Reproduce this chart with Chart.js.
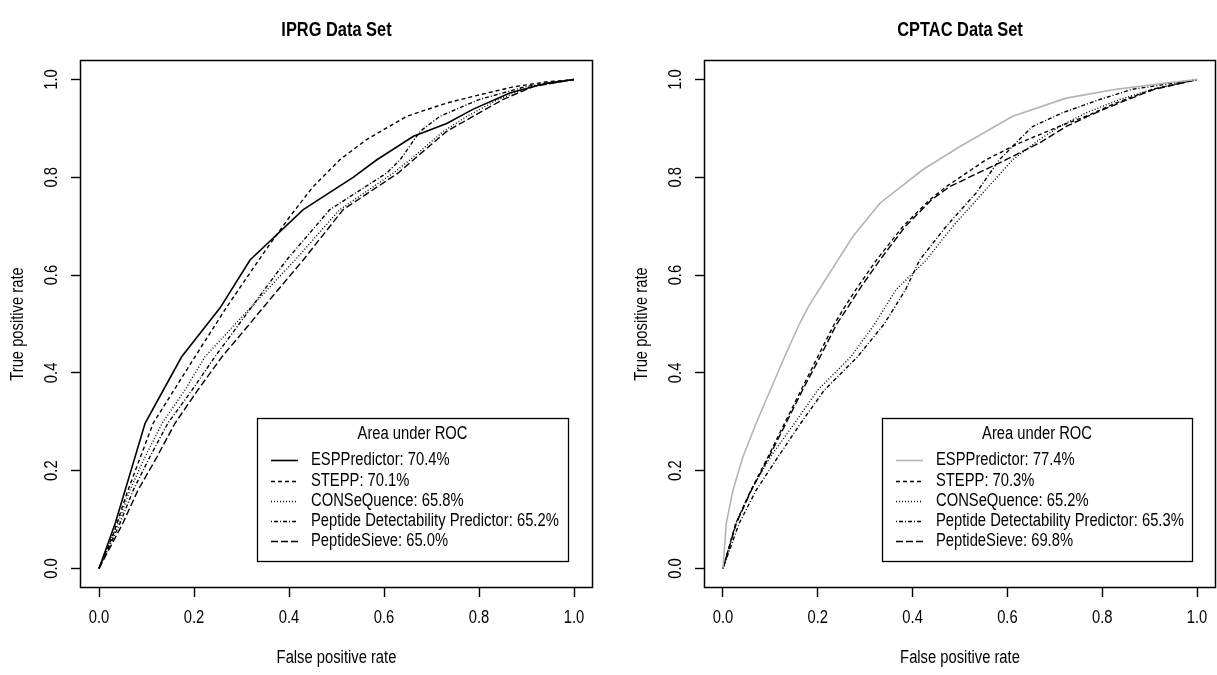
<!DOCTYPE html>
<html>
<head>
<meta charset="utf-8">
<script src="https://cdn.jsdelivr.net/npm/chart.js@4/dist/chart.umd.min.js"></script>
<style>
  body { margin: 0; background: #fff; }
  #wrap { position: relative; width: 1217px; height: 675px; }
  canvas { position: absolute; top: 0; }
</style>
</head>
<body>
<div id="wrap">
  <canvas id="iprg" width="608" height="675" style="left:0"></canvas>
  <canvas id="cptac" width="609" height="675" style="left:608px"></canvas>
</div>
<script>
// tick labels
const axisTicks = [0, 0.2, 0.4, 0.6, 0.8, 1.0];
const methodNames = ["ESPPredictor", "STEPP", "CONSeQuence", "Peptide Detectability Predictor", "PeptideSieve"];
const iprgAuc = ["70.4%", "70.1%", "65.8%", "65.2%", "65.0%"];
const cptacAuc = ["77.4%", "70.3%", "65.2%", "65.3%", "69.8%"];

// IPRG data set curves (false positive rate / true positive rate)
const iprgEspX = [0, 0.034, 0.055, 0.097, 0.174, 0.255, 0.318, 0.43, 0.535, 0.585, 0.662, 0.732, 0.787, 0.866, 0.94, 1];
const iprgEspY = [0, 0.092, 0.16, 0.297, 0.433, 0.533, 0.631, 0.734, 0.80, 0.836, 0.884, 0.91, 0.939, 0.973, 0.992, 1];
const iprgSteppX = [0, 0.03, 0.061, 0.114, 0.202, 0.269, 0.35, 0.402, 0.45, 0.507, 0.563, 0.648, 0.732, 0.802, 0.872, 0.94, 1];
const iprgSteppY = [0, 0.07, 0.16, 0.297, 0.433, 0.535, 0.65, 0.72, 0.78, 0.836, 0.877, 0.925, 0.952, 0.969, 0.985, 0.995, 1];
const iprgLowY = [0, 0.092, 0.16, 0.228, 0.297, 0.365, 0.433, 0.50, 0.533, 0.57, 0.631, 0.734, 0.809, 0.836, 0.894, 0.925, 0.959, 0.986, 1];
const iprgConsX = [0, 0.04, 0.065, 0.097, 0.133, 0.181, 0.223, 0.287, 0.319, 0.354, 0.413, 0.507, 0.62, 0.655, 0.725, 0.775, 0.84, 0.91, 1];
const iprgPdpX = [0, 0.044, 0.072, 0.107, 0.145, 0.196, 0.244, 0.295, 0.32, 0.348, 0.395, 0.486, 0.606, 0.634, 0.676, 0.718, 0.80, 0.90, 1];
const iprgSieveX = [0, 0.05, 0.082, 0.122, 0.16, 0.208, 0.259, 0.317, 0.345, 0.377, 0.43, 0.514, 0.63, 0.662, 0.732, 0.788, 0.85, 0.915, 1];

// CPTAC data set curves
const cptacEspX = [0, 0.007, 0.021, 0.042, 0.07, 0.10, 0.13, 0.161, 0.183, 0.274, 0.331, 0.422, 0.50, 0.611, 0.724, 0.829, 0.934, 1];
const cptacEspY = [0, 0.092, 0.16, 0.228, 0.297, 0.365, 0.433, 0.50, 0.54, 0.679, 0.747, 0.816, 0.863, 0.925, 0.962, 0.98, 0.993, 1];
const cptacUpY = [0, 0.092, 0.16, 0.228, 0.297, 0.365, 0.433, 0.50, 0.532, 0.57, 0.631, 0.70, 0.754, 0.781, 0.836, 0.87, 0.904, 0.925, 0.952, 0.98, 1];
const cptacSteppX = [0, 0.027, 0.059, 0.095, 0.13, 0.165, 0.2, 0.235, 0.255, 0.28, 0.324, 0.38, 0.436, 0.471, 0.555, 0.625, 0.709, 0.766, 0.829, 0.906, 1];
const cptacSieveX = [0, 0.028, 0.06, 0.097, 0.133, 0.168, 0.205, 0.24, 0.262, 0.287, 0.331, 0.385, 0.44, 0.478, 0.597, 0.667, 0.724, 0.77, 0.835, 0.91, 1];
const cptacLowY = [0, 0.092, 0.16, 0.228, 0.297, 0.365, 0.433, 0.50, 0.57, 0.631, 0.70, 0.768, 0.836, 0.877, 0.904, 0.932, 0.959, 0.98, 1];
const cptacConsX = [0, 0.027, 0.059, 0.10, 0.151, 0.20, 0.27, 0.32, 0.365, 0.429, 0.485, 0.548, 0.611, 0.667, 0.71, 0.766, 0.836, 0.906, 1];
const cptacPdpX = [0, 0.034, 0.07, 0.116, 0.164, 0.214, 0.284, 0.34, 0.385, 0.415, 0.471, 0.534, 0.583, 0.625, 0.653, 0.716, 0.794, 0.863, 1];

const FONT = "'Liberation Sans', Arial, sans-serif";
const SQUEEZE = 0.82; // the original lettering is narrow
const lineDashes = [[], [4, 3], [1, 2], [1, 2, 4, 2], [7, 3]];

function pts(xs, ys) {
  return xs.map((x, i) => ({ x: x, y: ys[i] }));
}

function makeSets(curves, espColor) {
  return curves.map((c, i) => ({
    label: methodNames[i],
    data: pts(c[0], c[1]),
    showLine: true,
    pointRadius: 0,
    borderColor: i === 0 ? espColor : "#000",
    borderWidth: i === 0 ? 1.6 : 1.4,
    borderDash: lineDashes[i],
    tension: 0,
  }));
}

function narrowText(ctx, str, x, y, font, align, vertical) {
  ctx.save();
  ctx.translate(x, y);
  if (vertical) ctx.rotate(-Math.PI / 2);
  ctx.scale(SQUEEZE, 1);
  ctx.font = font;
  ctx.textAlign = align;
  ctx.textBaseline = "middle";
  ctx.fillText(str, 0, 0);
  ctx.restore();
}

// draws the R style frame, axis text, titles and the legend box
const rStyle = {
  id: "rStyle",
  afterDraw(chart, args, opts) {
    const ctx = chart.ctx;
    const a = chart.chartArea;
    const xs = chart.scales.x;
    const ys = chart.scales.y;
    const plain = "18px " + FONT;
    ctx.save();
    ctx.strokeStyle = "#000";
    ctx.fillStyle = "#000";
    ctx.lineWidth = 1.5;
    ctx.strokeRect(a.left + 0.5, a.top + 0.5, a.right - a.left - 1, a.bottom - a.top - 1);

    narrowText(ctx, opts.title, (a.left + a.right) / 2, 30, "bold 20px " + FONT, "center");
    narrowText(ctx, "False positive rate", (a.left + a.right) / 2, 658, plain, "center");
    narrowText(ctx, "True positive rate", a.left - 62, (a.top + a.bottom) / 2, plain, "center", true);

    axisTicks.forEach((v) => {
      narrowText(ctx, v.toFixed(1), xs.getPixelForValue(v), 618, plain, "center");
      narrowText(ctx, v.toFixed(1), a.left - 28, ys.getPixelForValue(v), plain, "center", true);
    });

    // legend
    const L = opts.legend;
    ctx.lineWidth = 1.3;
    ctx.strokeRect(L.left + 0.5, 418.5, L.right - L.left, 143);
    narrowText(ctx, "Area under ROC", (L.left + L.right) / 2, 434, plain, "center");
    const rows = [460, 481, 501, 521, 541];
    chart.data.datasets.forEach((ds, i) => {
      ctx.strokeStyle = ds.borderColor;
      ctx.lineWidth = ds.borderWidth;
      ctx.setLineDash(ds.borderDash);
      ctx.beginPath();
      ctx.moveTo(L.left + 14, rows[i] + 0.5);
      ctx.lineTo(L.left + 41, rows[i] + 0.5);
      ctx.stroke();
      ctx.setLineDash([]);
      narrowText(ctx, ds.label + ": " + opts.auc[i], L.left + 54, rows[i], plain, "left");
    });
    ctx.restore();
  },
};

function makePanel(id, title, curves, espColor, auc, legendBox, yWidth, rightPad) {
  const tickGrid = { drawOnChartArea: false, drawTicks: true, tickLength: 9, tickColor: "#000", tickWidth: 1.4 };
  new Chart(document.getElementById(id), {
    type: "scatter",
    data: { datasets: makeSets(curves, espColor) },
    plugins: [rStyle],
    options: {
      responsive: false,
      animation: false,
      devicePixelRatio: 1,
      layout: { padding: { top: 60, right: rightPad, bottom: 0, left: 0 } },
      plugins: {
        legend: { display: false },
        tooltip: { enabled: false },
        rStyle: { title: title, auc: auc, legend: legendBox },
      },
      scales: {
        x: {
          type: "linear",
          min: -0.04,
          max: 1.04,
          afterBuildTicks: (s) => { s.ticks = axisTicks.map((v) => ({ value: v })); },
          afterFit: (s) => { s.height = 87; },
          grid: tickGrid,
          border: { display: false },
          ticks: { display: false },
        },
        y: {
          type: "linear",
          min: -0.04,
          max: 1.04,
          afterBuildTicks: (s) => { s.ticks = axisTicks.map((v) => ({ value: v })); },
          afterFit: (s) => { s.width = yWidth; },
          grid: tickGrid,
          border: { display: false },
          ticks: { display: false },
        },
      },
    },
  });
}

makePanel(
  "iprg",
  "IPRG Data Set",
  [
    [iprgEspX, iprgEspY],
    [iprgSteppX, iprgSteppY],
    [iprgConsX, iprgLowY],
    [iprgPdpX, iprgLowY],
    [iprgSieveX, iprgLowY],
  ],
  "#000",
  iprgAuc,
  { left: 257, right: 568 },
  80,
  15
);

makePanel(
  "cptac",
  "CPTAC Data Set",
  [
    [cptacEspX, cptacEspY],
    [cptacSteppX, cptacUpY],
    [cptacConsX, cptacLowY],
    [cptacPdpX, cptacLowY],
    [cptacSieveX, cptacUpY],
  ],
  "#b4b4b4",
  cptacAuc,
  { left: 274, right: 584 },
  96,
  1
);
</script>
</body>
</html>
